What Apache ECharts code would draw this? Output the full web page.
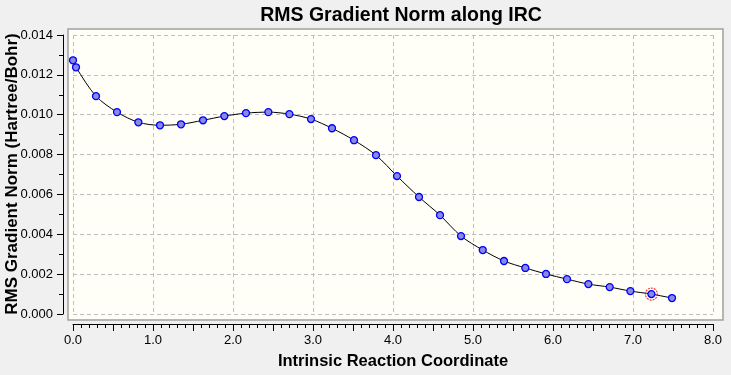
<!DOCTYPE html>
<html>
<head>
<meta charset="utf-8">
<script src="https://cdn.jsdelivr.net/npm/echarts@6/dist/echarts.min.js"></script>
<style>
html,body{margin:0;padding:0;background:#f0f0f0;}
#c{width:731px;height:375px;}
</style>
</head>
<body>
<div id="c"></div>
<script>
const irc = [0.0, 0.0375, 0.2875, 0.55, 0.817, 1.0875, 1.35, 1.625, 1.892, 2.1625, 2.442, 2.705, 2.975, 3.2375, 3.5125, 3.7875, 4.05, 4.325, 4.5875, 4.85, 5.1217, 5.3875, 5.654, 5.9125, 6.175, 6.442, 6.7087, 6.967, 7.23, 7.4875];
const rmsGrad = [0.01273, 0.01238, 0.01093, 0.01013, 0.00962, 0.00947, 0.00952, 0.00972, 0.00993, 0.01008, 0.01013, 0.01003, 0.00978, 0.00932, 0.00872, 0.00797, 0.00692, 0.00587, 0.00496, 0.00391, 0.00321, 0.00266, 0.00231, 0.00201, 0.00175, 0.00150, 0.00135, 0.00115, 0.00100, 0.00080];
const highlightX = [7.23];
const highlightY = [0.00100];
const xTicks = [0, 8, 1];
const yTicks = [0, 0.014, 0.002];
const yName = 'RMS Gradient Norm (Hartree/Bohr)';

const chart = echarts.init(document.getElementById('c'), null, {renderer: 'canvas'});
const fontFam = '"Liberation Sans", Arial, sans-serif';
chart.setOption({
  backgroundColor: '#f0f0f0',
  animation: false,
  title: {
    text: 'RMS Gradient Norm along IRC',
    left: 396, top: 1, textAlign: 'center',
    textStyle: {fontFamily: fontFam, fontSize: 19.5, fontWeight: 'bold', color: '#000'}
  },
  graphic: [{
    type: 'text', x: 12, y: 174, rotation: Math.PI / 2, z: 100,
    style: {text: yName, fill: '#000', font: 'bold 17px ' + fontFam, align: 'center', verticalAlign: 'middle'}
  }],
  grid: [
    {left: 68, top: 29, width: 655, height: 291, show: true, backgroundColor: '#fffff7', borderColor: '#a0a0a0', borderWidth: 1.5, containLabel: false, outerBoundsMode: 'none'},
    {left: 73, top: 35, width: 640, height: 279, containLabel: false, outerBoundsMode: 'none'}
  ],
  xAxis: [
    {gridIndex: 0, type: 'value', show: false, min: 0, max: 1},
    {gridIndex: 1, type: 'value', position: 'bottom', min: xTicks[0], max: xTicks[1], interval: xTicks[2],
      axisLine: {show: false, onZero: false}, axisTick: {show: false}, axisLabel: {show: false},
      splitLine: {show: true, lineStyle: {color: '#c0c0c0', type: [4, 3], width: 1}}},
    {gridIndex: 1, type: 'value', position: 'bottom', min: xTicks[0], max: xTicks[1], interval: xTicks[2] / 2, offset: 10,
      name: 'Intrinsic Reaction Coordinate', nameLocation: 'middle', nameGap: 29, nameMoveOverlap: false,
      nameTextStyle: {fontFamily: fontFam, fontSize: 16.5, fontWeight: 'bold', color: '#000'},
      axisLine: {show: true, onZero: false, lineStyle: {color: '#000', width: 1}},
      axisTick: {show: true, length: 7, lineStyle: {color: '#000'}},
      minorTick: {show: true, splitNumber: 5, length: 4, lineStyle: {color: '#000'}},
      axisLabel: {margin: 10, fontFamily: fontFam, fontSize: 13, color: '#000',
        formatter: v => (Math.abs(v - Math.round(v)) < 1e-9 ? v.toFixed(1) : '')},
      splitLine: {show: false}}
  ],
  yAxis: [
    {gridIndex: 0, type: 'value', show: false, min: 0, max: 1},
    {gridIndex: 1, type: 'value', position: 'left', min: yTicks[0], max: yTicks[1], interval: yTicks[2], offset: 10,
      axisLine: {show: true, onZero: false, lineStyle: {color: '#000', width: 1}},
      axisTick: {show: true, length: 6, lineStyle: {color: '#000'}},
      minorTick: {show: true, splitNumber: 2, length: 4, lineStyle: {color: '#000'}},
      axisLabel: {margin: 10, fontFamily: fontFam, fontSize: 13, color: '#000', formatter: v => v.toFixed(3)},
      splitLine: {show: true, lineStyle: {color: '#c0c0c0', type: [4, 3], width: 1}}}
  ],
  series: [
    {type: 'line', xAxisIndex: 1, yAxisIndex: 1, smooth: 0.3,
      data: irc.map((x, i) => [x, rmsGrad[i]]),
      lineStyle: {color: '#000', width: 1},
      symbol: 'circle', symbolSize: 7,
      itemStyle: {color: '#8a8ae0', borderColor: '#0000ff', borderWidth: 1.3}},
    {type: 'scatter', xAxisIndex: 1, yAxisIndex: 1,
      data: highlightX.map((x, i) => [x, highlightY[i]]),
      symbol: 'circle', symbolSize: 12,
      itemStyle: {color: 'rgba(0,0,0,0)', borderColor: '#ff0000', borderWidth: 1.2, borderType: [2, 1]}, z: 5}
  ]
});
</script>
</body>
</html>
